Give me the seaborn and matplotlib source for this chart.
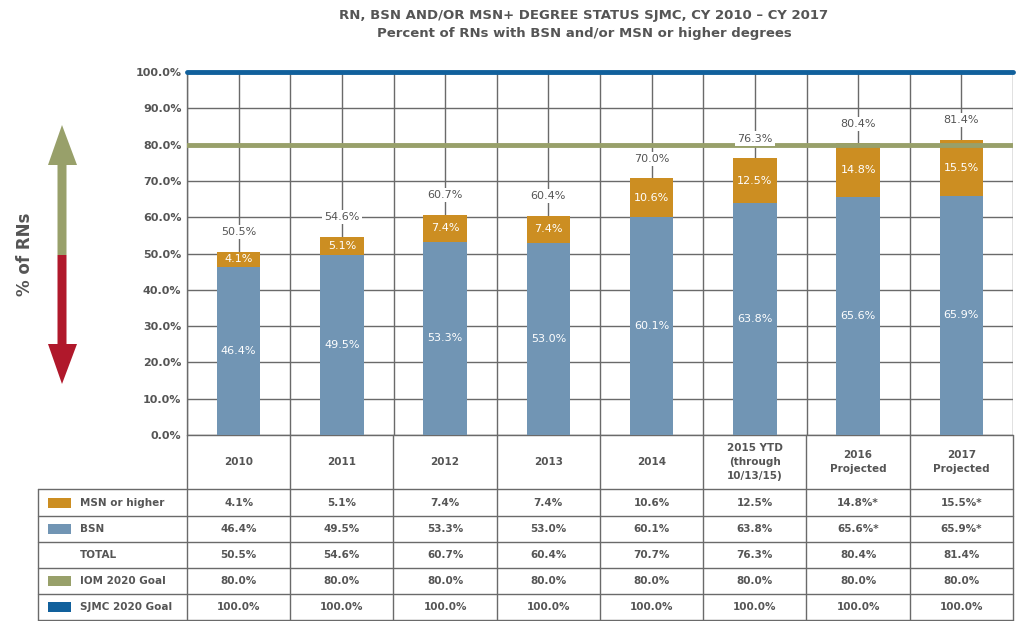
import numpy as np
import pandas as pd
import matplotlib
matplotlib.use("Agg")
import matplotlib.pyplot as plt
import matplotlib.patches as mpatches
import seaborn as sns

# data
years = ["2010", "2011", "2012", "2013", "2014", "2015 YTD\n(through\n10/13/15)",
         "2016\nProjected", "2017\nProjected"]
msn = [4.1, 5.1, 7.4, 7.4, 10.6, 12.5, 14.8, 15.5]
bsn = [46.4, 49.5, 53.3, 53.0, 60.1, 63.8, 65.6, 65.9]
total_labels = ["50.5%", "54.6%", "60.7%", "60.4%", "70.0%", "76.3%", "80.4%", "81.4%"]
total_table = [50.5, 54.6, 60.7, 60.4, 70.7, 76.3, 80.4, 81.4]
projected = [False, False, False, False, False, False, True, True]
iom_goal = 80.0
sjmc_goal = 100.0

C_MSN = "#cc8e22"
C_BSN = "#7195b4"
C_IOM = "#98a06a"
C_SJMC = "#11609c"
C_RED = "#b0182b"
C_TXT = "#555555"
C_GRID = "#6a6a6a"

sns.set_style("white")
plt.rcParams["font.family"] = ["DejaVu Sans"]

W, H = 1019, 621
X0, X1, Y0, Y1 = 187, 1013, 435, 72
n = len(years)
cw = (X1 - X0) / n

df = pd.DataFrame({"year": years, "msn": msn, "bsn": bsn})
df["total"] = df["msn"] + df["bsn"]

fig = plt.figure(figsize=(W / 100, H / 100), dpi=100)
ov = fig.add_axes([0, 0, 1, 1], zorder=0)
ov.set_xlim(0, W)
ov.set_ylim(H, 0)
ov.axis("off")

ax = fig.add_axes([X0 / W, (H - Y0) / H, (X1 - X0) / W, (Y0 - Y1) / H], zorder=1)
ax.set_facecolor("none")

# stacked bars: orange total behind, blue BSN in front
sns.barplot(data=df, x="year", y="total", color=C_MSN, width=0.42, saturation=1,
            ax=ax, zorder=3, edgecolor="none")
sns.barplot(data=df, x="year", y="bsn", color=C_BSN, width=0.42, saturation=1,
            ax=ax, zorder=3, edgecolor="none")

ax.set_xlim(-0.5, n - 0.5)
ax.set_ylim(0, 100)
ax.set_yticks(np.arange(0, 101, 10))
ax.set_yticklabels([f"{v:.1f}%" for v in np.arange(0, 101, 10)],
                   fontsize=8, fontweight="bold", color=C_TXT)
ax.tick_params(axis="y", length=0, pad=4)
ax.set_xticks([])
ax.set_xlabel("")
ax.set_ylabel("")
for s in ["top", "right", "bottom"]:
    ax.spines[s].set_visible(False)
ax.spines["left"].set_color(C_GRID)
ax.spines["left"].set_linewidth(1)

# grid: horizontal lines, category boundaries and centers
for v in np.arange(0, 100, 10):
    ax.axhline(v, color=C_GRID, lw=1, zorder=1)
for i in range(n + 1):
    ax.axvline(i - 0.5, color=C_GRID, lw=1, zorder=1)
for i in range(n):
    ax.axvline(i, color=C_GRID, lw=1, zorder=1)

# goal lines
ax.axhline(iom_goal, color=C_IOM, lw=3.5, zorder=4)
ax.axhline(sjmc_goal, color=C_SJMC, lw=3.5, zorder=4, clip_on=False)

# labels on bars
for i in range(n):
    ax.text(i, bsn[i] / 2, f"{bsn[i]:.1f}%", ha="center", va="center",
            color="white", fontsize=8, fontweight="medium", zorder=5)
    ax.text(i, bsn[i] + msn[i] / 2, f"{msn[i]:.1f}%", ha="center", va="center",
            color="white", fontsize=8, fontweight="medium", zorder=5)
    ax.annotate(total_labels[i], (i, bsn[i] + msn[i]), xytext=(0, 14),
                textcoords="offset points", ha="center", va="center",
                color=C_TXT, fontsize=8, zorder=5,
                bbox=dict(fc="white", ec="none", pad=1.5))

# left arrow and axis title
ov.add_patch(mpatches.Polygon([[62, 125], [48, 165], [57.5, 165], [57.5, 255],
                               [66.5, 255], [66.5, 165], [77, 165]],
                              closed=True, fc=C_IOM, ec="none"))
ov.add_patch(mpatches.Polygon([[57.5, 255], [57.5, 344], [48, 344], [62, 384],
                               [77, 344], [66.5, 344], [66.5, 255]],
                              closed=True, fc=C_RED, ec="none"))
ov.text(25, 254, "% of RNs", rotation=90, ha="center", va="center",
        fontsize=12, fontweight="bold", color=C_TXT)

# titles
fig.text(584 / W, 1 - 15 / H, "RN, BSN AND/OR MSN+ DEGREE STATUS SJMC, CY 2010 – CY 2017",
         ha="center", va="center", fontsize=9.5, fontweight="bold", color=C_TXT)
fig.text(584 / W, 1 - 33 / H, "Percent of RNs with BSN and/or MSN or higher degrees",
         ha="center", va="center", fontsize=9.5, fontweight="bold", color=C_TXT)

# data table
rows_y = [489, 516, 542, 568, 594, 620]
TL = 38
lk = dict(color=C_GRID, lw=1)
ov.plot([X0, X1], [Y0, Y0], **lk)
for y in rows_y:
    ov.plot([TL, X1], [y, y], **lk)
ov.plot([TL, TL], [489, 620], **lk)
for i in range(n + 1):
    ov.plot([X0 + i * cw] * 2, [Y0, 620], **lk)

tfont = dict(fontsize=7.5, fontweight="bold", color=C_TXT, va="center")
for i, lab in enumerate(years):
    ov.text(X0 + (i + 0.5) * cw, (Y0 + 489) / 2, lab, ha="center",
            linespacing=1.45, **tfont)

row_names = ["MSN or higher", "BSN", "TOTAL", "IOM 2020 Goal", "SJMC 2020 Goal"]
row_colors = [C_MSN, C_BSN, None, C_IOM, C_SJMC]
row_vals = [
    [f"{v:.1f}%" + ("*" if p else "") for v, p in zip(msn, projected)],
    [f"{v:.1f}%" + ("*" if p else "") for v, p in zip(bsn, projected)],
    [f"{v:.1f}%" for v in total_table],
    [f"{iom_goal:.1f}%"] * n,
    [f"{sjmc_goal:.1f}%"] * n,
]
for r in range(5):
    yc = (rows_y[r] + rows_y[r + 1]) / 2
    if row_colors[r]:
        ov.add_patch(mpatches.Rectangle((48, yc - 5), 23, 10, fc=row_colors[r], ec="none"))
    ov.text(80, yc, row_names[r], ha="left", **tfont)
    for i in range(n):
        ov.text(X0 + (i + 0.5) * cw, yc, row_vals[r][i], ha="center", **tfont)

fig.savefig("out.png", dpi=100)
